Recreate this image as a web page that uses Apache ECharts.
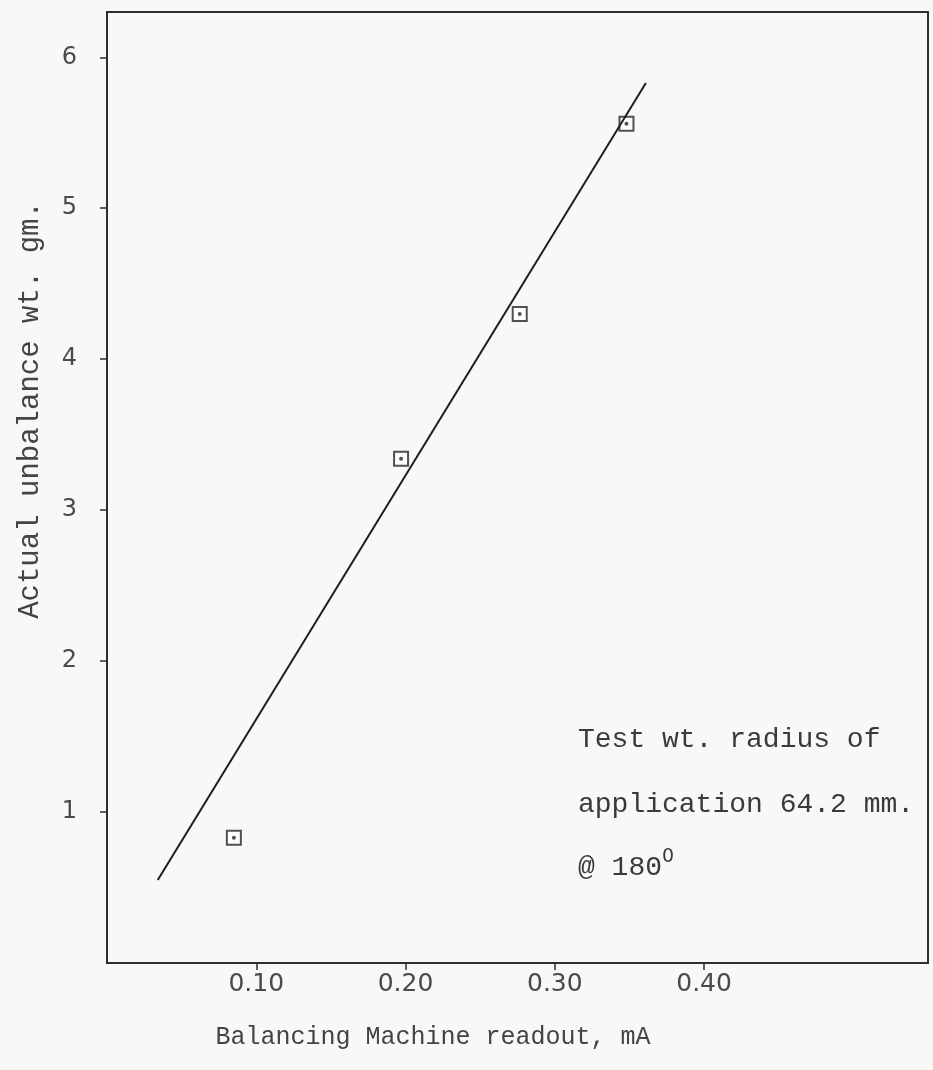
<!DOCTYPE html>
<html>
<head>
<meta charset="utf-8">
<script src="https://cdn.jsdelivr.net/npm/echarts@6/dist/echarts.min.js"></script>
<style>
  html, body { margin: 0; padding: 0; background: #f8f8f6; }
  #chart { width: 933px; height: 1070px; }
</style>
</head>
<body>
<div id="chart"></div>
<script>
// Measured points (balancing machine readout vs actual unbalance)
const readoutMA = [0.085, 0.197, 0.2765, 0.348];
const unbalanceGm = [0.83, 3.34, 4.30, 5.56];

// Hand-drawn fit line end points
const fitX = [0.034, 0.361];
const fitY = [0.55, 5.83];

// Tick labels
const xTicks = [0.10, 0.20, 0.30, 0.40];
const yTicks = [1, 2, 3, 4, 5, 6];

const mono = '"Liberation Mono", "DejaVu Sans Mono", monospace';
const ink = '#2e2e2e';

const chart = echarts.init(document.getElementById('chart'));

const points = readoutMA.map((x, i) => [x, unbalanceGm[i]]);
const fit = fitX.map((x, i) => [x, fitY[i]]);

chart.setOption({
    backgroundColor: '#f8f8f6',
    animation: false,
    grid: {
        left: 107,
        right: 5,
        top: 12,
        bottom: 107,
        show: true,
        borderColor: ink,
        borderWidth: 2
    },
    xAxis: {
        type: 'value',
        min: 0,
        max: 0.55,
        splitLine: { show: false },
        axisLine: { lineStyle: { color: ink, width: 2 } },
        axisTick: {
            customValues: xTicks,
            length: 7,
            lineStyle: { color: ink, width: 1.5 }
        },
        axisLabel: {
            customValues: xTicks,
            formatter: v => v.toFixed(2),
            margin: 9,
            fontFamily: '"DejaVu Sans", sans-serif',
            fontSize: 25,
            color: '#4a4a4a'
        }
    },
    yAxis: {
        type: 'value',
        min: 0,
        max: 6.3,
        splitLine: { show: false },
        axisLine: { lineStyle: { color: ink, width: 2 } },
        axisTick: {
            customValues: yTicks,
            length: 7,
            lineStyle: { color: ink, width: 1.5 }
        },
        axisLabel: {
            customValues: yTicks,
            margin: 30,
            fontFamily: '"DejaVu Sans", sans-serif',
            fontSize: 24,
            color: '#4a4a4a'
        }
    },
    series: [
        {
            name: 'fit',
            type: 'line',
            data: fit,
            symbol: 'none',
            lineStyle: { color: '#1e1e1e', width: 2 }
        },
        {
            name: 'measured',
            type: 'scatter',
            data: points,
            symbol: 'emptyRect',
            symbolSize: 14,
            itemStyle: { color: '#262626', borderColor: '#262626', borderWidth: 3 }
        },
        {
            name: 'measured-dot',
            type: 'scatter',
            data: points,
            symbol: 'circle',
            symbolSize: 4,
            itemStyle: { color: '#262626' }
        }
    ],
    graphic: [
        {
            type: 'text',
            x: 30,
            y: 410,
            rotation: Math.PI / 2,
            style: {
                text: 'Actual unbalance wt. gm.',
                font: '29px ' + mono,
                fill: '#444',
                align: 'center',
                verticalAlign: 'middle'
            }
        },
        {
            type: 'text',
            x: 433,
            y: 1037,
            style: {
                text: 'Balancing Machine readout, mA',
                font: '25px ' + mono,
                fill: '#444',
                align: 'center',
                verticalAlign: 'middle'
            }
        },
        {
            type: 'text',
            x: 578,
            y: 740,
            style: {
                text: 'Test wt. radius of',
                font: '28px ' + mono,
                fill: '#3a3a3a',
                verticalAlign: 'middle'
            }
        },
        {
            type: 'text',
            x: 578,
            y: 805,
            style: {
                text: 'application 64.2 mm.',
                font: '28px ' + mono,
                fill: '#3a3a3a',
                verticalAlign: 'middle'
            }
        },
        {
            type: 'text',
            x: 578,
            y: 868,
            style: {
                text: '@ 180{sup|0}',
                font: '28px ' + mono,
                fill: '#3a3a3a',
                verticalAlign: 'middle',
                rich: {
                    sup: {
                        fontFamily: '"DejaVu Sans", sans-serif',
                        fontSize: 19,
                        fill: '#3a3a3a',
                        padding: [0, 0, 22, 0]
                    }
                }
            }
        }
    ]
});
</script>
</body>
</html>
